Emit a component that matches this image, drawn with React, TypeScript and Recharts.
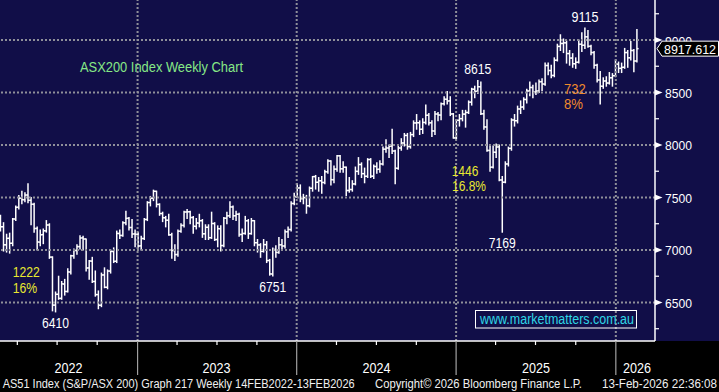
import React from 'react';
import { ComposedChart, Bar, XAxis, YAxis, ReferenceLine, ReferenceDot } from 'recharts';

// Weekly OHLC of the S&P/ASX 200 (AS51), week of 14 Feb 2022 .. week of 13 Feb 2026
const opens = [
  // 2022
  7290,7221,7049,7111,7064,7295,7406,7493,7479,7523, 7473,7435,7205,7075,7146,7182,7238,6932,6475,6578,
  6539,6677,6605,6791,6945,6996,7032,7115,7105,6829, 6894,6700,6575,6474,6762,6645,6799,6986,6892,7158,
  7139,7259,7301,7214,7153,7149,
  // 2023
  7039,7109,7291,7452,7493,7559,7434,7347,7307,7284, 7144,6995,6956,7178,7234,7362,7364,7309,7225,7256,
  7279,7154,7216,7117,7252,7099,7203,7042,7303,7325, 7410,7326,7340,7148,7158,7278,7156,7279,7069,7048,
  6987,7051,6899,6772,7004,6977,7049,7038,7174,7195, 7443,7508,
  // 2024
  7591,7489,7499,7421,7588,7699,7645,7659,7643,7745, 7847,7670,7770,7897,7773,7788,7567,7576,7629,7749,
  7814,7727,7702,7861,7703,7796,7768,7820,7960,7971, 7989,7943,7778,7971,8019,8091,7985,8099,8210,8212,
  8150,8215,8283,8211,8134,8295,8285,8393,8436,8420, 8296,8067,
  // 2025
  8235,8251,8294,8310,8408,8532,8511,8555,8297,8172, 7948,7789,7931,7982,7667,7646,7819,7968,8238,8231,
  8343,8361,8434,8515,8548,8505,8514,8603,8580,8757, 8709,8663,8808,8939,8967,8973,8871,8828,8774,8788,
  8960,8950,9030,8940,8880,8760,8620,8560,8610,8590, 8640,8660,
  // 2026
  8770,8730,8740,8880,8830,8900,8800,
];

const highs = [
  7330,7260,7150,7160,7300,7420,7520,7560,7545,7630, 7500,7445,7220,7190,7200,7280,7250,6935,6600,6750,
  6700,6720,6820,6950,7010,7050,7135,7130,7105,6900, 6930,6800,6610,6780,6830,6810,7000,7020,7180,7190,
  7270,7370,7310,7290,7190,7170,
  7130,7300,7460,7510,7570,7560,7440,7360,7320,7340, 7160,7050,7190,7250,7370,7385,7370,7320,7300,7340,
  7290,7240,7240,7360,7260,7230,7230,7310,7360,7460, 7420,7370,7350,7200,7320,7290,7300,7280,7100,7060,
  7100,7080,6910,7020,7040,7120,7100,7190,7220,7460, 7540,7630,
  7620,7530,7520,7600,7700,7710,7690,7700,7760,7860, 7850,7800,7900,7900,7840,7790,7690,7660,7790,7880,
  7830,7780,7870,7870,7810,7830,7850,7980,8050,8000, 8150,7950,7990,8060,8110,8110,8120,8230,8290,8230,
  8250,8380,8300,8230,8320,8310,8400,8460,8510,8460, 8300,8240,
  8290,8330,8330,8420,8540,8560,8615,8600,8330,8240, 8000,7990,8010,8000,7700,7840,7980,8250,8290,8370,
  8420,8450,8530,8600,8570,8590,8620,8630,8780,8780, 8760,8830,8960,9050,9010,8990,8900,8870,8830,9000,
  9070,9115,9090,8950,8890,8770,8700,8640,8650,8690, 8680,8810,
  8790,8780,8920,8900,8985,8910,9100,
];

const lows = [
  7180,6990,6980,6970,7040,7280,7390,7440,7460,7450, 7240,7170,7000,7040,7060,7170,6920,6420,6410,6530,
  6530,6570,6600,6770,6920,6960,7010,7000,6800,6720, 6690,6560,6440,6460,6640,6630,6780,6880,6880,7110,
  7130,7240,7190,7120,7030,7020,
  7000,7100,7280,7420,7470,7410,7330,7270,7220,7140, 6920,6900,6940,7170,7220,7300,7250,7160,7200,7220,
  7120,7100,7100,7110,7090,7030,6990,7030,7250,7310, 7290,7280,7130,7080,7150,7110,7150,7040,6980,6930,
  6980,6880,6760,6751,6930,6970,7010,7020,7120,7180, 7430,7500,
  7460,7440,7350,7410,7560,7580,7560,7540,7630,7730, 7620,7640,7750,7740,7740,7520,7550,7560,7620,7720,
  7690,7640,7690,7690,7680,7730,7740,7810,7930,7880, 7920,7630,7770,7950,7990,7960,7970,8080,8150,8100,
  8110,8200,8190,8080,8100,8230,8240,8380,8390,8280, 8065,8060,
  8180,8230,8170,8300,8380,8450,8490,8290,8150,7940, 7750,7780,7880,7660,7169,7640,7800,7950,8180,8210,
  8300,8340,8400,8470,8450,8480,8500,8520,8570,8670, 8640,8650,8800,8900,8880,8780,8760,8740,8730,8780,
  8890,8920,8930,8860,8730,8600,8390,8540,8560,8580, 8560,8650,
  8690,8690,8730,8740,8810,8698,8790,
];

const closes = [
  7221,7049,7111,7064,7295,7406,7493,7479,7523,7473, 7435,7205,7075,7146,7182,7238,6932,6475,6578,6539,
  6677,6605,6791,6945,6996,7032,7115,7105,6829,6894, 6700,6575,6474,6762,6645,6799,6986,6892,7158,7139,
  7259,7301,7214,7153,7149,7039,
  7109,7291,7452,7493,7559,7434,7347,7307,7284,7144, 6995,6956,7178,7234,7362,7364,7309,7225,7256,7279,
  7154,7216,7117,7252,7099,7203,7042,7303,7325,7410, 7326,7340,7148,7158,7278,7156,7279,7069,7048,6987,
  7051,6899,6772,7004,6977,7049,7038,7174,7195,7443, 7508,7591,
  7489,7499,7421,7588,7699,7645,7659,7643,7745,7847, 7670,7770,7897,7773,7788,7567,7576,7629,7749,7814,
  7727,7702,7861,7703,7796,7768,7820,7960,7971,7989, 7943,7778,7971,8019,8091,7985,8099,8210,8212,8150,
  8215,8283,8211,8134,8295,8285,8393,8436,8420,8296, 8067,8235,
  8251,8294,8310,8408,8532,8511,8555,8297,8172,7948, 7789,7931,7982,7667,7646,7819,7968,8238,8231,8343,
  8361,8434,8515,8548,8505,8514,8603,8580,8757,8709, 8663,8808,8939,8967,8973,8871,8828,8774,8788,8960,
  8950,9030,8940,8880,8760,8620,8560,8610,8590,8640, 8660,8770,
  8730,8740,8880,8830,8900,8800,8917.612,
];

const lastClose = 8917.612;

// axis ticks (y in index points, x in week numbers from first bar)
const yGridValues = [6500, 7000, 7500, 8000, 8500, 9000];
const yTickValues = [6250, 6500, 6750, 7000, 7250, 7500, 7750, 8000, 8250, 8500, 8750, 9000, 9250];
const yearBoundaries = [44.8, 96.8, 148.9, 201.1];
const quarterTicks = [5.5, 18.5, 31.6, 57.7, 70.75, 83.8, 109.8, 122.85, 135.9, 161.8, 174.85, 188.0];
const yearLabels = ['2022', '2023', '2024', '2025', '2026'];
const yearLabelPos = [22.2, 70.6, 122.9, 175.0, 208.0];

// labelled extremes: [week, price, text, below]
const extremeWeeks = [191, 156, 18, 89, 164];
const extremePrices = [9115, 8615, 6410, 6751, 7169];
const extremeBelow = [false, false, true, true, true];

const NAVY = '#110e48';
const GRID = '#8f8f99';
const FONT = '"Liberation Sans", Arial, sans-serif';

const data = closes.map((c, i) => ({
  i,
  o: opens[i],
  h: highs[i],
  l: lows[i],
  c,
  range: [lows[i], highs[i]],
}));

const xTicks = [...quarterTicks, ...yearBoundaries, ...yearLabelPos].sort((a, b) => a - b);
const yTicks = [...yTickValues, lastClose];

const OhlcShape = (props: any) => {
  const { x, y, width, height, payload } = props;
  if (x == null || y == null || !payload) return null;
  const cx = x + width / 2;
  const top = Math.min(y, y + height);
  const bottom = Math.max(y, y + height);
  const span = payload.h - payload.l;
  const yOf = (v: number) => (span > 0 ? top + ((bottom - top) * (payload.h - v)) / span : top);
  const yo = yOf(payload.o);
  const yc = yOf(payload.c);
  return (
    <g>
      <line x1={cx} x2={cx} y1={top - 0.5} y2={bottom + 0.5} stroke="#fff" strokeWidth={1.5} />
      <line x1={cx - 1.7} x2={cx} y1={yo} y2={yo} stroke="#fff" strokeWidth={1.5} />
      <line x1={cx} x2={cx + 1.7} y1={yc} y2={yc} stroke="#fff" strokeWidth={1.5} />
    </g>
  );
};

const renderXTick = (props: any) => {
  const { x, y, payload } = props;
  const v = payload.value;
  const li = yearLabelPos.indexOf(v);
  if (li >= 0) {
    return (
      <text x={x} y={y + 31.5} textAnchor="middle" fill="#fff" fontSize={15} fontFamily={FONT}
        textLength={28} lengthAdjust="spacingAndGlyphs">
        {yearLabels[li]}
      </text>
    );
  }
  if (yearBoundaries.indexOf(v) >= 0) {
    return <line x1={x} x2={x} y1={y} y2={y + 34} stroke="#a0a0a0" strokeWidth={1.2} />;
  }
  return <line x1={x} x2={x} y1={y} y2={y + 4} stroke="#fff" strokeWidth={1.2} />;
};

const renderYTick = (props: any) => {
  const { x, y, payload } = props;
  const v = payload.value;
  if (v === lastClose) {
    return (
      <g>
        <path d={`M${x + 2},${y} L${x + 7},${y - 7.5} L${x + 63.5},${y - 7.5} L${x + 63.5},${y + 7.5} L${x + 7},${y + 7.5} Z`}
          fill="#000" stroke="#fff" strokeWidth={1} />
        <text x={x + 9} y={y + 5} fill="#fff" fontSize={13.5} fontFamily={FONT} textLength={52}
          lengthAdjust="spacingAndGlyphs">
          {v.toFixed(3)}
        </text>
      </g>
    );
  }
  if (v % 500 === 0) {
    return (
      <g>
        <path d={`M${x},${y - 3} L${x + 7.5},${y} L${x},${y + 3} Z`} fill="#fff" />
        <text x={x + 10} y={y + 5.5} fill="#fff" fontSize={13.5} fontFamily={FONT} textLength={27}
          lengthAdjust="spacingAndGlyphs">
          {v}
        </text>
      </g>
    );
  }
  return <line x1={x} x2={x + 4} y1={y} y2={y} stroke="#fff" strokeWidth={1.2} />;
};

const makeExtremeLabel = (text: string, below: boolean) => (lp: any) => {
  const vb = lp && lp.viewBox;
  if (!vb) return null;
  const cx = vb.x + (vb.width || 0) / 2;
  const cy = vb.y + (vb.height || 0) / 2;
  return (
    <text x={cx} y={below ? cy + 16 : cy - 6} textAnchor="middle" fill="#fff" fontSize={14}
      fontFamily={FONT} textLength={27} lengthAdjust="spacingAndGlyphs">
      {text}
    </text>
  );
};

export default function App() {
  return (
    <div style={{ position: 'fixed', left: 0, top: 0, width: 719, height: 392, background: '#000', overflow: 'hidden' }}>
      <div style={{ position: 'absolute', left: 0, top: 0, width: 719, height: 341, background: NAVY }} />
      <div style={{ position: 'absolute', left: 0, top: 0 }}>
        <ComposedChart width={719} height={392} data={data} margin={{ top: 0, right: 0, bottom: 0, left: 0 }}>
          <XAxis dataKey="i" type="number" domain={[-0.16, 213.9]} allowDataOverflow ticks={xTicks}
            interval={0} tick={renderXTick} tickLine={false} tickSize={0} tickMargin={0} height={51}
            axisLine={{ stroke: '#fff', strokeWidth: 1.5 }} />
          <YAxis orientation="right" type="number" domain={[6133, 9381]} allowDataOverflow ticks={yTicks}
            interval={0} tick={renderYTick} tickLine={false} tickSize={0} tickMargin={0} width={64}
            axisLine={{ stroke: '#fff', strokeWidth: 1.5 }} />
          {yGridValues.map((v) => (
            <ReferenceLine key={`gy${v}`} y={v} stroke={GRID} strokeWidth={2} strokeDasharray="2 2" />
          ))}
          {yearBoundaries.map((v) => (
            <ReferenceLine key={`gx${v}`} x={v} stroke={GRID} strokeWidth={2} strokeDasharray="2 2" />
          ))}
          <Bar dataKey="range" barSize={3} shape={OhlcShape} isAnimationActive={false} />
          {extremeWeeks.map((w, k) => (
            <ReferenceDot key={`ex${k}`} x={w} y={extremePrices[k]} r={0} fill="none" stroke="none"
              ifOverflow="visible" label={makeExtremeLabel(String(extremePrices[k]), extremeBelow[k])} />
          ))}
        </ComposedChart>
      </div>
      <svg width={719} height={392} style={{ position: 'absolute', left: 0, top: 0, pointerEvents: 'none' }}>
        <g fontFamily={FONT}>
          <text x={80} y={71.5} fill="#86e886" fontSize={14} textLength={163} lengthAdjust="spacingAndGlyphs">
            ASX200 Index Weekly Chart
          </text>
          <text x={12.7} y={276.7} fill="#e8e830" fontSize={14} textLength={27} lengthAdjust="spacingAndGlyphs">1222</text>
          <text x={12.7} y={292.7} fill="#e8e830" fontSize={14} textLength={24.5} lengthAdjust="spacingAndGlyphs">16%</text>
          <text x={451.7} y={175.7} fill="#e8e830" fontSize={14} textLength={26.7} lengthAdjust="spacingAndGlyphs">1446</text>
          <text x={452} y={190.7} fill="#e8e830" fontSize={14} textLength={34} lengthAdjust="spacingAndGlyphs">16.8%</text>
          <text x={564} y={94} fill="#f08a2c" fontSize={14} textLength={21.7} lengthAdjust="spacingAndGlyphs">732</text>
          <text x={564} y={109.3} fill="#f08a2c" fontSize={14} textLength={19} lengthAdjust="spacingAndGlyphs">8%</text>
          <rect x={475.5} y={310.5} width={161} height={17.5} fill="none" stroke="#fff" strokeWidth={1} />
          <text x={480} y={323.5} fill="#2fd6e6" fontSize={14} textLength={154} lengthAdjust="spacingAndGlyphs">
            www.marketmatters.com.au
          </text>
          <text x={2.7} y={387.8} fill="#f0f0f0" fontSize={12} textLength={352} lengthAdjust="spacingAndGlyphs">
            AS51 Index (S&amp;P/ASX 200) Graph 217 Weekly 14FEB2022-13FEB2026
          </text>
          <text x={375} y={387.8} fill="#f0f0f0" fontSize={12} textLength={207} lengthAdjust="spacingAndGlyphs">
            Copyright© 2026 Bloomberg Finance L.P.
          </text>
          <text x={602} y={387.8} fill="#f0f0f0" fontSize={12} textLength={115} lengthAdjust="spacingAndGlyphs">
            13-Feb-2026 22:36:08
          </text>
        </g>
      </svg>
    </div>
  );
}
